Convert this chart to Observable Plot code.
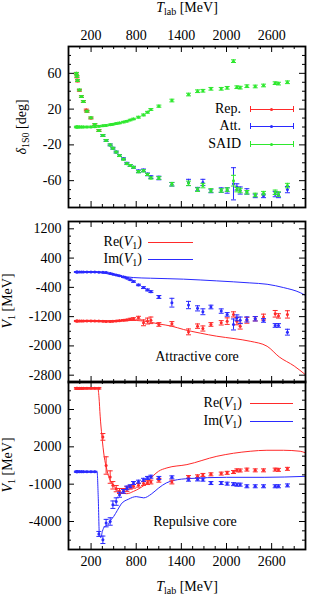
<!DOCTYPE html>
<html><head><meta charset="utf-8">
<script src="https://cdn.jsdelivr.net/npm/d3@7"></script>
<script src="https://cdn.jsdelivr.net/npm/@observablehq/plot@0.6"></script>
<style>
body{margin:0;background:#fff;}
#wrap{position:relative;width:311px;height:595px;font-family:"Liberation Serif","DejaVu Serif",serif;color:#000;overflow:hidden;}
.pl{position:absolute;left:0;}
.t{position:absolute;font-size:14px;white-space:nowrap;line-height:1;}
.c{transform:translate(-50%,-50%);}
.r{transform:translate(-100%,-50%);}
.rot{transform:translate(-50%,-50%) rotate(-90deg);}
.ln{position:absolute;height:0;border-top:1px solid;}
.cap{position:absolute;width:0;height:6px;border-left:1px solid;}
.pt{position:absolute;width:3px;height:3px;border-radius:50%;}
sub{font-size:10px;vertical-align:-3px;line-height:0;}
</style></head><body><div id="wrap"></div>
<script>
// ---------- common energy grid ----------
const T = [5,12,20,45,72,98,145,198,250,304,357,400,454,490,534,578,631,676,720,764,830,897,950,995,1101,1274,1495,1615,1686,1793,1930,2009,2093,2138,2182,2271,2382,2492,2647,2691,2810];

// ---------- panel 1: delta_1S0 [deg] ----------
const saidDelta = [60,56.5,52,41.5,34,28.5,17.7,10.3,2.8,-4,-9.5,-15,-20,-23.7,-28,-32,-36,-41,-43,-45,-50,-49,-53,-57,-57,-64,-63,-70,-65.5,-71,-71,-70,-60,-70,-71,-73,-76,-74,-73,-75,-65.5];
const saidDeltaErr = [1,1,1,1,1,1,1,1,1,1,1,1,1,1,1,1,1,1,1,1,1.2,1.2,1.2,1.2,1.5,2,2.5,2,2.5,2,2,2,6,2.5,2.5,2,2,2,2.5,2.5,2.5];
const saidUpper = [0,0,0,0,0,0,0,0.1,0.3,0.8,1.3,1.8,2.5,3.1,3.8,4.5,5.5,6.5,7.8,9,11,13.5,16.5,19.6,23.3,29.6,36.3,40,40.5,42.7,42.7,43.8,73.6,44.5,44,45.6,45.3,46.4,49,48.5,50];
const saidUpperErr = [0.8,0.8,0.8,0.8,0.8,0.8,0.8,0.8,0.8,0.8,0.8,0.8,0.8,0.8,0.8,0.8,0.8,0.8,0.8,0.8,1,1,1,1,1.2,1.5,1.5,1.5,1.5,1.5,1.5,1.5,1.5,1.5,1.5,1.5,1.5,1.5,1.5,1.5,1.5];
const repT = [5,12,20,45,72,98,136,145,198,250,304];
const repDelta = [60,56,51.5,41,34,28.5,19,17.5,10,2.5,-4];
const repErr = [1,1,1,1,1,1,1,1,1,1,1];
const attT = [357,400,454,490,534,578,631,676,720,764,830,897,950,995,1101,1274,1495,1615,1686,1793,1930,2009,2093,2138,2182,2271,2382,2492,2647,2691,2810];
const attDelta = [-9.5,-15,-20,-23.7,-28,-32,-35.5,-40.5,-43,-45,-49.5,-48.5,-53,-56,-57,-64,-62,-69.5,-62,-71.5,-70.5,-71,-63.5,-67,-71,-72,-77,-77,-75,-76,-70];
const attErr = [1,1,1,1,1,1,1,1,1,1,1.5,1.5,1.5,1.5,2,2,3.5,2,3.5,2,2.5,3,18,3.5,4,3,2,2,3,3,3.5];

// ---------- panel 2: attractive core, V1 [MeV] ----------
const attReV = [-1320,-1320,-1320,-1320,-1320,-1320,-1318,-1318,-1320,-1322,-1325,-1330,-1330,-1325,-1320,-1310,-1300,-1290,-1270,-1260,-1231,-1369,-1320,-1300,-1414,-1396,-1617,-1460,-1524,-1414,-1369,-1323,-1139,-1323,-1460,-1300,-1258,-1212,-1122,-1180,-1139];
const attReErr = [15,15,15,15,15,15,15,15,15,15,15,15,15,15,15,15,20,20,25,30,40,80,80,90,50,60,80,60,70,50,60,90,70,100,80,80,60,80,90,60,100];
const attImV = [20,20,20,20,20,20,20,20,20,15,10,5,-20,-40,-60,-85,-115,-148,-190,-242,-333,-407,-470,-517,-663,-819,-883,-974,-1067,-937,-1048,-1139,-1414,-1232,-1300,-1276,-1258,-1304,-1441,-1441,-1625];
const attImErr = [10,10,10,10,10,10,10,10,10,10,10,10,10,10,10,10,15,15,15,20,20,25,25,25,40,120,100,70,80,50,60,50,150,80,90,70,60,50,50,50,80];
const attCurveT = [0,200,450,600,760,990,1430,1870,2310,2540,2760,2980,3050];
const attCurveIm = [30,25,-38,-90,-132,-150,-176,-223,-278,-315,-407,-545,-620];
const attCurveReT = [0,400,700,900,1100,1270,1430,1650,1870,2100,2315,2540,2700,2900,3050];
const attCurveRe = [-1320,-1320,-1300,-1320,-1400,-1460,-1552,-1650,-1735,-1800,-1873,-2010,-2300,-2550,-2789];

// ---------- panel 3: repulsive core, V1 [MeV] ----------
const repReV = [6700,6700,6700,6700,6700,6700,6700,6700,6700,6700,2800,500,-430,-1090,-1360,-1550,-1550,-1400,-1250,-1170,-1090,-950,-880,-830,-690,-830,-430,-370,-260,-210,-150,-90,-25,110,100,170,110,110,170,150,230];
const repReErr = [60,60,60,60,60,60,60,60,60,60,270,700,500,300,250,200,200,200,150,150,150,150,150,150,150,150,120,120,120,120,120,120,120,120,120,120,120,120,120,120,120];
const repImV = [0,0,0,0,0,0,0,0,0,-5000,-5470,-4130,-4000,-2650,-2400,-1850,-1580,-1300,-1170,-910,-800,-650,-500,-400,-500,-450,-640,-620,-640,-910,-910,-960,-1000,-1040,-1040,-1170,-1170,-1170,-1170,-1170,-1100];
const repImErr = [40,40,40,40,40,40,40,40,40,200,300,300,300,300,300,200,150,150,120,120,120,120,120,120,120,120,120,120,120,120,120,120,120,120,120,120,120,120,120,120,120];
const repCurveReT = [0,290,305,321,344,374,410,432,477,543,610,676,764,853,942,1030,1096,1208,1474,1872,2315,2537,2757,2980,3050];
const repCurveRe = [6700,6700,6000,4464,2852,1240,170,-370,-905,-1442,-1710,-1764,-1580,-1305,-905,-300,32,306,572,1240,1644,1724,1724,1644,1510];
const repCurveImT = [0,280,295,310,330,350,380,420,460,500,550,600,700,800,900,1000,1100,1200,1300,1500,2000,2500,3050];
const repCurveIm = [0,0,-2000,-5000,-5300,-4800,-4400,-4300,-3900,-3600,-3100,-2600,-2200,-2000,-2100,-1800,-1300,-900,-700,-550,-450,-450,-370];

// ---------- axes ----------
const xDomain = [-100, 3050];
const xMajor = [200, 800, 1400, 2000, 2600];
const xMinor = d3.range(-100, 3051, 150).filter(v => !xMajor.includes(v));
const y1Domain = [-90, 90], y1Major = [-60, -20, 20, 60];
const y1Minor = d3.range(-90, 91, 10).filter(v => !y1Major.includes(v));
const y2Domain = [-3000, 1400], y2Major = [-2800, -2000, -1200, -400, 400, 1200];
const y2Minor = d3.range(-3000, 1401, 200).filter(v => !y2Major.includes(v));
const y3Domain = [-6250, 7250], y3Major = [-4000, -1000, 2000, 5000];
const y3Minor = d3.range(-6250, 7251, 750).filter(v => !y3Major.includes(v));

const RED = "#ff2a2a", BLUE = "#2a2aff", GREEN = "#2ee82e";
const FONT = "'Liberation Serif', 'DejaVu Serif', serif";
const rows = (t, v, e) => t.map((T, i) => ({T, v: v[i], e: e ? e[i] : 0}));
const capSym = {draw(ctx, size) { const r = Math.sqrt(size / Math.PI); ctx.moveTo(-r, 0); ctx.lineTo(r, 0); }};
function errMarks(data, color, capR = 2.5, dotR = 1.5) {
  return [
    Plot.ruleX(data, {x: "T", y1: d => d.v - d.e, y2: d => d.v + d.e, stroke: color, strokeWidth: 1}),
    Plot.dot(data, {x: "T", y: d => d.v - d.e, symbol: capSym, r: capR, stroke: color, fill: "none", strokeWidth: 1}),
    Plot.dot(data, {x: "T", y: d => d.v + d.e, symbol: capSym, r: capR, stroke: color, fill: "none", strokeWidth: 1}),
    Plot.dot(data, {x: "T", y: "v", r: dotR, fill: color, stroke: "none"})
  ];
}
const ML = 68, MR = 6, W = 311;
function panel({top, height, mt, mb, yDomain, yMajor, yMinor, xLabels, marks}) {
  const H = height - mt - mb, PW = W - ML - MR;
  const tk = [
    Plot.ruleX(xMajor, {x: d => d, insetTop: H - 6, stroke: "#000"}),
    Plot.ruleX(xMajor, {x: d => d, insetBottom: H - 6, stroke: "#000"}),
    Plot.ruleX(xMinor, {x: d => d, insetTop: H - 3, stroke: "#000"}),
    Plot.ruleX(xMinor, {x: d => d, insetBottom: H - 3, stroke: "#000"}),
    Plot.ruleY(yMajor, {y: d => d, insetRight: PW - 6, stroke: "#000"}),
    Plot.ruleY(yMajor, {y: d => d, insetLeft: PW - 6, stroke: "#000"}),
    Plot.ruleY(yMinor, {y: d => d, insetRight: PW - 3, stroke: "#000"}),
    Plot.ruleY(yMinor, {y: d => d, insetLeft: PW - 3, stroke: "#000"}),
    Plot.axisY(yMajor, {anchor: "left", tickSize: 0, tickPadding: 7, label: null, tickFormat: d => String(d)})
  ];
  if (xLabels) tk.push(Plot.axisX(xMajor, {anchor: xLabels, tickSize: 0, tickPadding: 7, label: null, tickFormat: d => String(d)}));
  else tk.push(Plot.axisX([], {anchor: "bottom", tickSize: 0, label: null}));
  const svg = Plot.plot({
    width: W, height, marginLeft: ML, marginRight: MR, marginTop: mt, marginBottom: mb,
    x: {domain: xDomain}, y: {domain: yDomain},
    style: {fontFamily: FONT, fontSize: "14px", background: "transparent", color: "#000", overflow: "visible"},
    marks: [...marks, ...tk, Plot.frame({stroke: "#000", strokeWidth: 1.8})]
  });
  svg.classList.add("pl");
  svg.style.top = top + "px";
  document.getElementById("wrap").appendChild(svg);
}

panel({top: 0, height: 214, mt: 46, mb: 7, yDomain: y1Domain, yMajor: y1Major, yMinor: y1Minor, xLabels: "top",
  marks: [
    ...errMarks(rows(repT, repDelta, repErr), RED),
    ...errMarks(rows(attT, attDelta, attErr), BLUE),
    ...errMarks(rows(T, saidUpper, saidUpperErr), GREEN),
    ...errMarks(rows(T, saidDelta, saidDeltaErr), GREEN)
  ]});

panel({top: 214, height: 174, mt: 7, mb: 6, yDomain: y2Domain, yMajor: y2Major, yMinor: y2Minor, xLabels: null,
  marks: [
    Plot.line(rows(attCurveReT, attCurveRe), {x: "T", y: "v", stroke: RED, strokeWidth: 1, curve: "monotone-x", clip: true}),
    Plot.line(rows(attCurveT, attCurveIm), {x: "T", y: "v", stroke: BLUE, strokeWidth: 1, curve: "monotone-x", clip: true}),
    ...errMarks(rows(T, attReV, attReErr), RED),
    ...errMarks(rows(T, attImV, attImErr), BLUE)
  ]});

panel({top: 374, height: 221, mt: 7, mb: 46, yDomain: y3Domain, yMajor: y3Major, yMinor: y3Minor, xLabels: "bottom",
  marks: [
    Plot.line(rows(repCurveReT, repCurveRe), {x: "T", y: "v", stroke: RED, strokeWidth: 1, curve: "monotone-x", clip: true}),
    Plot.line(rows(repCurveImT, repCurveIm), {x: "T", y: "v", stroke: BLUE, strokeWidth: 1, curve: "monotone-x", clip: true}),
    ...errMarks(rows(T, repReV, repReErr), RED),
    ...errMarks(rows(T, repImV, repImErr), BLUE)
  ]});

// ---------- titles, legends, annotations (HTML overlay) ----------
const wrap = document.getElementById("wrap");
function txt(html, x, y, cls) { const d = document.createElement("div"); d.className = "t " + cls; d.innerHTML = html; d.style.left = x + "px"; d.style.top = y + "px"; wrap.appendChild(d); }
function seg(x1, x2, y, color, bars) {
  const l = document.createElement("div"); l.className = "ln"; l.style.left = x1 + "px"; l.style.top = y + "px"; l.style.width = (x2 - x1) + "px"; l.style.borderColor = color; wrap.appendChild(l);
  if (bars) {
    for (const x of [x1, x2]) { const c = document.createElement("div"); c.className = "cap"; c.style.left = x + "px"; c.style.top = (y - 3) + "px"; c.style.borderColor = color; wrap.appendChild(c); }
    const p = document.createElement("div"); p.className = "pt"; p.style.left = ((x1 + x2) / 2 - 1.5) + "px"; p.style.top = (y - 1) + "px"; p.style.background = color; wrap.appendChild(p);
  }
}
txt("<i>T</i><sub>lab</sub> [MeV]", 187, 8, "c");
txt("<i>T</i><sub>lab</sub> [MeV]", 187, 587, "c");
txt("<i>δ</i><sub>1S0</sub> [deg]", 22, 127, "rot");
txt("<i>V</i><sub>1</sub> [MeV]", 8, 301, "rot");
txt("<i>V</i><sub>1</sub> [MeV]", 8, 465, "rot");

txt("Rep.", 241, 109, "r"); seg(250, 293, 109, RED, true);
txt("Att.", 241, 126, "r"); seg(250, 293, 126, BLUE, true);
txt("SAID", 241, 144, "r"); seg(250, 293, 144, GREEN, true);

txt("Re(<i>V</i><sub>1</sub>)", 142, 242, "r"); seg(148, 193, 242, RED, false);
txt("Im(<i>V</i><sub>1</sub>)", 142, 259, "r"); seg(148, 193, 259, BLUE, false);
txt("Attractive core", 197, 357, "c");

txt("Re(<i>V</i><sub>1</sub>)", 242, 403, "r"); seg(250, 293, 403, RED, false);
txt("Im(<i>V</i><sub>1</sub>)", 242, 421, "r"); seg(250, 293, 421, BLUE, false);
txt("Repulsive core", 195, 522, "c");
</script></body></html>
